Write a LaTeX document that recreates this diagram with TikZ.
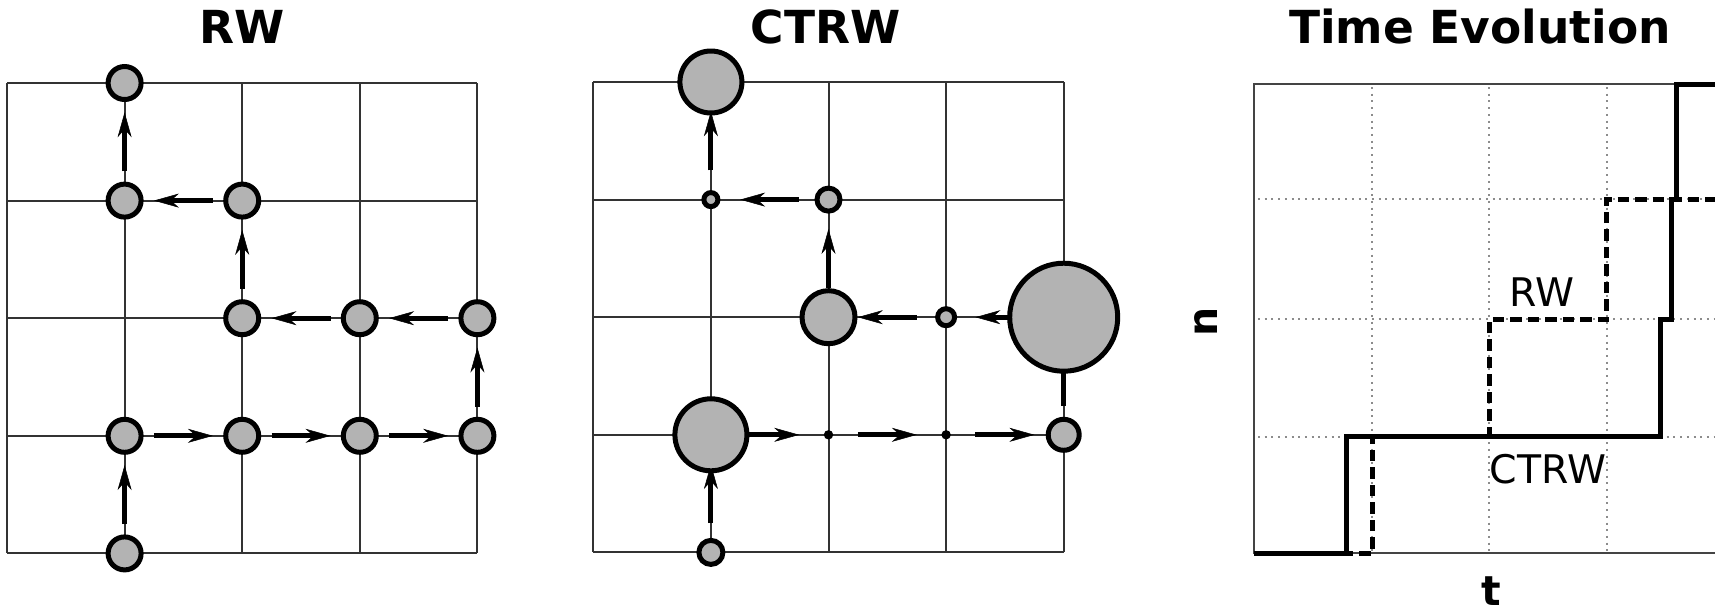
\documentclass[tikz,border=0pt]{standalone}
\usepackage{fontspec}
\setmainfont{DejaVu Sans}
\usetikzlibrary{arrows.meta}
\pgfdeclarelayer{bg}
\pgfsetlayers{bg,main}
\definecolor{nodegray}{RGB}{179,179,179}
\definecolor{gridcol}{RGB}{51,51,51}
\definecolor{dotcol}{RGB}{140,140,140}
\definecolor{framecol}{RGB}{68,68,68}
\tikzset{
  site/.style={circle, draw=black, fill=nodegray, line width=5pt, inner sep=0pt, minimum size=#1},
  site/.default=33pt,
  gridline/.style={draw=gridcol, line width=2pt},
  arr/.style={line width=5pt, -{Stealth[length=25pt,width=14pt,inset=8pt,line width=0.5pt]}, shorten <=29.3pt, shorten >=29.3pt},
  titletext/.style={anchor=base, inner sep=0pt, font=\fontsize{45.5}{50}\selectfont\bfseries},
  axlabel/.style={inner sep=0pt, font=\fontsize{41}{45}\selectfont\bfseries},
  curvelabel/.style={anchor=base west, inner sep=0pt, font=\fontsize{39.4}{44}\selectfont},
  dotgrid/.style={draw=dotcol, line width=2pt, dash pattern=on 2pt off 4.7pt},
  frameline/.style={draw=framecol, line width=2pt},
  ctrwcurve/.style={draw=black, line width=5pt},
  rwcurve/.style={draw=black, line width=5pt, dash pattern=on 11.5pt off 6pt},
}
\begin{document}
\begin{tikzpicture}[x=1pt,y=-1pt]
\useasboundingbox (0,0) rectangle (1715,611);

% ---------- titles ----------
\node[titletext] (tRW) at (242.2,43.5) {RW};
\node[titletext] (tCTRW) at (825.8,43.5) {CTRW};
\node[titletext] (tTE) at (1480,43.5) {Time Evolution};

% ---------- RW panel ----------
\node[site] (r1) at (124.6,553.4) {};
\node[site] (r2) at (124.6,435.8) {};
\node[site] (r3) at (242.2,435.8) {};
\node[site] (r4) at (359.8,435.8) {};
\node[site] (r5) at (477.4,435.8) {};
\node[site] (r6) at (477.4,318.2) {};
\node[site] (r7) at (359.8,318.2) {};
\node[site] (r8) at (242.2,318.2) {};
\node[site] (r9) at (242.2,200.6) {};
\node[site] (r10) at (124.6,200.6) {};
\node[site] (r11) at (124.6,83) {};
\begin{pgfonlayer}{bg}
  \foreach \i in {0,...,4} {
    \draw[gridline] ({7+117.6*\i},83) -- ({7+117.6*\i},553.4);
    \draw[gridline] (7,{83+117.6*\i}) -- (477.4,{83+117.6*\i});
  }
  \draw[arr] (r1.center) -- (r2.center);
  \draw[arr] (r2.center) -- (r3.center);
  \draw[arr] (r3.center) -- (r4.center);
  \draw[arr] (r4.center) -- (r5.center);
  \draw[arr] (r5.center) -- (r6.center);
  \draw[arr] (r6.center) -- (r7.center);
  \draw[arr] (r7.center) -- (r8.center);
  \draw[arr] (r8.center) -- (r9.center);
  \draw[arr] (r9.center) -- (r10.center);
  \draw[arr] (r10.center) -- (r11.center);
\end{pgfonlayer}

% ---------- CTRW panel ----------
\begin{scope}[shift={(586.3,-1)}]
\node[site=24pt] (c1) at (124.6,553.4) {};
\node[site=72pt] (c2) at (124.6,435.8) {};
\node[site=4pt] (c3) at (242.2,435.8) {};
\node[site=4pt] (c4) at (359.8,435.8) {};
\node[site=31pt] (c5) at (477.4,435.8) {};
\node[site=108pt] (c6) at (477.4,318.2) {};
\node[site=17pt] (c7) at (359.8,318.2) {};
\node[site=53pt] (c8) at (242.2,318.2) {};
\node[site=23pt] (c9) at (242.2,200.6) {};
\node[site=14pt] (c10) at (124.6,200.6) {};
\node[site=62pt] (c11) at (124.6,83) {};
\begin{pgfonlayer}{bg}
  \foreach \i in {0,...,4} {
    \draw[gridline] ({7+117.6*\i},83) -- ({7+117.6*\i},553.4);
    \draw[gridline] (7,{83+117.6*\i}) -- (477.4,{83+117.6*\i});
  }
  \draw[arr] (c1.center) -- (c2.center);
  \draw[arr] (c2.center) -- (c3.center);
  \draw[arr] (c3.center) -- (c4.center);
  \draw[arr] (c4.center) -- (c5.center);
  \draw[arr] (c5.center) -- (c6.center);
  \draw[arr] (c6.center) -- (c7.center);
  \draw[arr] (c7.center) -- (c8.center);
  \draw[arr] (c8.center) -- (c9.center);
  \draw[arr] (c9.center) -- (c10.center);
  \draw[arr] (c10.center) -- (c11.center);
\end{pgfonlayer}
\end{scope}

% ---------- Time evolution ----------
\begin{scope}
\clip (0,0) rectangle (1715,611);
\foreach \yy in {199.2,319.4,436.6}
  \draw[dotgrid] (1258,\yy) -- (1730,\yy);
\foreach \xx in {1371.8,1489.3,1606.8}
  \draw[dotgrid] (\xx,87) -- (\xx,553.4);
\draw[frameline] (1730,83.8) -- (1254.3,83.8) -- (1254.3,553.4) -- (1730,553.4);
\draw[rwcurve] (1254.3,553.4) -- (1372,553.4) -- (1372,436.6) -- (1489.3,436.6)
  -- (1489.3,319.4) -- (1606.5,319.4) -- (1606.5,199.2) -- (1730,199.2);
\draw[ctrwcurve] (1254.3,553.4) -- (1346.7,553.4) -- (1346.7,436.6) -- (1660,436.6)
  -- (1660,319.4) -- (1671.5,319.4) -- (1671.5,199.2) -- (1676,199.2) -- (1676,84) -- (1730,84);
\end{scope}
\node[curvelabel] (lrw) at (1509.4,306.7) {RW};
\node[curvelabel] (lctrw) at (1489.5,483.3) {CTRW};
\node[axlabel, rotate=90] (ln) at (1206.2,322) {n};
\node[axlabel, anchor=base] (lt) at (1491,605.5) {t};
\end{tikzpicture}
\end{document}
